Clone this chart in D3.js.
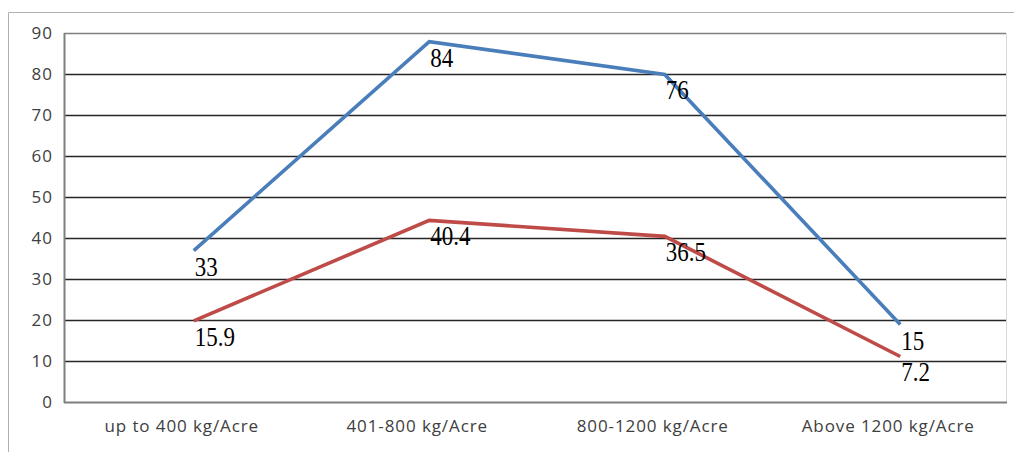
<!DOCTYPE html>
<html><head><meta charset="utf-8">
<script src="https://cdn.jsdelivr.net/npm/d3@7"></script>
<style>html,body{margin:0;padding:0;background:#fff;}svg{display:block;}</style>
</head><body>
<svg id="c" width="1014" height="452"></svg>
<script>
const categories = ["up to 400 kg/Acre", "401-800 kg/Acre", "800-1200 kg/Acre", "Above 1200 kg/Acre"];
const seriesBlue = [33, 84, 76, 15];
const seriesRed = [15.9, 40.4, 36.5, 7.2];
const yTicks = [0, 10, 20, 30, 40, 50, 60, 70, 80, 90];

const svg = d3.select("#c");
const W = 1014, H = 452;
const m = {left: 64, right: 1006, top: 33, bottom: 402};
const tickFont = "'Open Sans', 'DejaVu Sans', sans-serif";

// outer frame
svg.append("path").attr("d", `M8.5,${H}V12.5H${W}`).attr("fill", "none").attr("stroke", "#b0b0b0").attr("stroke-width", 1);

const x = d3.scaleBand().domain(categories).range([m.left, m.right]).paddingInner(0).paddingOuter(0);
const y = d3.scaleLinear().domain([0, 90]).range([m.bottom, m.top]);

// plot area right border
svg.append("line").attr("x1", m.right + 0.5).attr("x2", m.right + 0.5).attr("y1", m.top).attr("y2", m.bottom)
  .attr("stroke", "#d9d9d9").attr("stroke-width", 1);

// gridlines
svg.append("g").selectAll("line").data(yTicks.filter(t => t > 0)).join("line")
  .attr("x1", m.left).attr("x2", m.right)
  .attr("y1", d => Math.round(y(d)) + 0.5).attr("y2", d => Math.round(y(d)) + 0.5)
  .attr("stroke", d => d === 90 ? "#7f7f7f" : "#262626").attr("stroke-width", 1.4);

// y axis
const yAxis = d3.axisLeft(y).tickValues(yTicks).tickSize(0).tickPadding(11);
const gy = svg.append("g").attr("transform", `translate(${m.left},0)`).call(yAxis);
gy.select(".domain").remove();
gy.selectAll("text").attr("font-family", tickFont).attr("font-size", 17).attr("letter-spacing", 1).attr("fill", "#404040");

// axis lines
svg.append("line").attr("x1", m.left + 0.5).attr("x2", m.left + 0.5).attr("y1", m.top).attr("y2", m.bottom + 1)
  .attr("stroke", "#7f7f7f").attr("stroke-width", 2);
svg.append("line").attr("x1", m.left).attr("x2", m.right + 1).attr("y1", m.bottom + 0.5).attr("y2", m.bottom + 0.5)
  .attr("stroke", "#7f7f7f").attr("stroke-width", 2);

// x axis labels
const xAxis = d3.axisBottom(x).tickSize(0).tickPadding(18);
const gx = svg.append("g").attr("transform", `translate(0,${m.bottom})`).call(xAxis);
gx.select(".domain").remove();
gx.selectAll("text").attr("font-family", tickFont).attr("font-size", 17).attr("letter-spacing", 0.9).attr("fill", "#404040");

const cx = d => x(d) + x.bandwidth() / 2;

// lines (drawn with an offset as in the reference)
const lineGen = d3.line().x((d, i) => cx(categories[i])).y(d => y(d));
const linesG = svg.append("g").attr("transform", "translate(12,-16)");
linesG.append("path").datum(seriesBlue).attr("d", lineGen).attr("fill", "none")
  .attr("stroke", "#4a7ebb").attr("stroke-width", 3.6).attr("stroke-linejoin", "miter");
linesG.append("path").datum(seriesRed).attr("d", lineGen).attr("fill", "none")
  .attr("stroke", "#be4b48").attr("stroke-width", 3.6).attr("stroke-linejoin", "miter");

// data labels
function labels(data) {
  svg.append("g").selectAll("text").data(data).join("text")
    .attr("transform", (d, i) => `translate(${cx(categories[i]) + 13},${y(d) + 9}) scale(1,1.15)`)
    .attr("font-family", "'Liberation Serif', 'Times New Roman', serif")
    .attr("font-size", 23).attr("fill", "#000")
    .text(d => d);
}
labels(seriesBlue);
labels(seriesRed);
</script>
</body></html>
